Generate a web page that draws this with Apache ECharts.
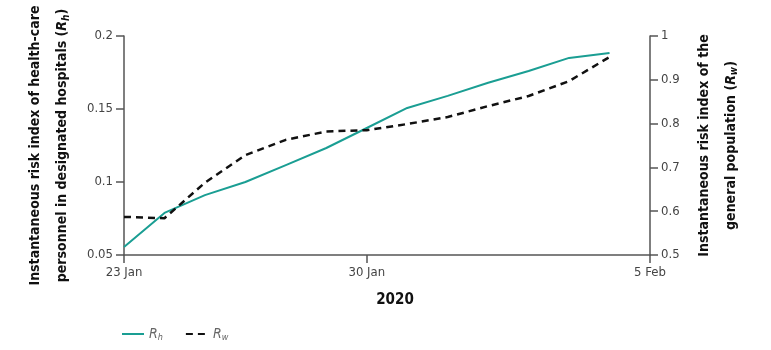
<!DOCTYPE html>
<html><head><meta charset="utf-8">
<script src="https://cdn.jsdelivr.net/npm/echarts@6/dist/echarts.min.js"></script>
<style>html,body{margin:0;padding:0;background:#fff}#c{width:771px;height:350px}</style>
</head><body><div id="c"></div>
<script>
// day index from 23 Jan (x-axis positions as drawn in reference)
const dayIndex = [0, 1, 2, 3, 4, 5, 6, 7, 8, 9, 10, 11, 12];
const rh = [0.0555, 0.0788, 0.091, 0.100, 0.1116, 0.1233, 0.137, 0.1507, 0.159, 0.168, 0.176, 0.185, 0.1884];
const rw = [0.587, 0.584, 0.665, 0.728, 0.763, 0.782, 0.785, 0.799, 0.815, 0.840, 0.863, 0.897, 0.952];
const xTickPos = [0, 6, 13];
const xTickLabels = ['23 Jan', '30 Jan', '5 Feb'];

const FONT = '"DejaVu Sans Condensed", "Liberation Sans Narrow", sans-serif';
const axisCol = '#555';
const labelStyle = {fontFamily: FONT, fontSize: 13, color: '#444'};
const nameRich = {
  i: {fontFamily: FONT, fontSize: 14, fontWeight: 'bold', fontStyle: 'italic', color: '#111'},
  s: {fontFamily: FONT, fontSize: 10, fontStyle: 'italic', color: '#111', padding: [7, 0, 0, 0]}
};

const chart = echarts.init(document.getElementById('c'), null, {renderer: 'canvas'});
chart.setOption({
  animation: false,
  grid: {left: 124, right: 121, top: 36, bottom: 95, containLabel: false, outerBoundsMode: 'none'},
  legend: {
    left: 116, top: 322, itemWidth: 22, itemHeight: 10, itemGap: 22,
    data: ['Rh', 'Rw'],
    itemStyle: {opacity: 0},
    formatter: n => n === 'Rh' ? '{i|R}{s|h}' : '{i|R}{s|w}',
    textStyle: {
      fontFamily: FONT, color: '#666',
      rich: {
        i: {fontFamily: FONT, fontSize: 14, fontStyle: 'italic', color: '#666'},
        s: {fontFamily: FONT, fontSize: 9, fontStyle: 'italic', color: '#666', padding: [7, 0, 0, 0]}
      }
    }
  },
  xAxis: {
    type: 'value', min: 0, max: 13,
    name: '2020', nameLocation: 'middle', nameGap: 38,
    nameTextStyle: {fontFamily: FONT, fontSize: 15, fontWeight: 'bold', color: '#111', padding: [0, 0, 0, 16]},
    axisLine: {lineStyle: {color: axisCol, width: 1.5}},
    axisTick: {show: true, length: 8, customValues: xTickPos, lineStyle: {color: axisCol, width: 1.5}},
    axisLabel: Object.assign({customValues: xTickPos, margin: 11,
      formatter: v => xTickLabels[xTickPos.indexOf(v)] || ''}, labelStyle),
    splitLine: {show: false}
  },
  yAxis: [{
    type: 'value', min: 0.05, max: 0.2, interval: 0.05, position: 'left',
    name: 'Instantaneous risk index of health-care\npersonnel in designated hospitals ({i|R}{s|h})',
    nameLocation: 'middle', nameRotate: 90, nameGap: 44,
    nameTextStyle: {fontFamily: FONT, fontSize: 14, fontWeight: 'bold', color: '#111', lineHeight: 27, rich: nameRich},
    axisLine: {show: true, lineStyle: {color: axisCol, width: 1.5}},
    axisTick: {show: true, length: 8, lineStyle: {color: axisCol, width: 1.5}},
    axisLabel: Object.assign({margin: 11}, labelStyle),
    splitLine: {show: false}
  }, {
    type: 'value', min: 0.5, max: 1, interval: 0.1, position: 'right',
    name: 'Instantaneous risk index of the\ngeneral population ({i|R}{s|w})',
    nameLocation: 'middle', nameRotate: 90, nameGap: 40,
    nameTextStyle: {fontFamily: FONT, fontSize: 14, fontWeight: 'bold', color: '#111', lineHeight: 27, rich: nameRich},
    axisLine: {show: true, lineStyle: {color: axisCol, width: 1.5}},
    axisTick: {show: true, length: 8, lineStyle: {color: axisCol, width: 1.5}},
    axisLabel: Object.assign({margin: 11}, labelStyle),
    splitLine: {show: false}
  }],
  series: [{
    name: 'Rh', type: 'line', yAxisIndex: 0, symbol: 'none',
    data: dayIndex.map((d, i) => [d, rh[i]]),
    lineStyle: {color: '#1a9e93', width: 2},
    itemStyle: {color: '#1a9e93'}
  }, {
    name: 'Rw', type: 'line', yAxisIndex: 1, symbol: 'none',
    data: dayIndex.map((d, i) => [d, rw[i]]),
    lineStyle: {color: '#111', width: 2.5, type: [7, 5]},
    itemStyle: {color: '#111'}
  }]
});
</script></body></html>
